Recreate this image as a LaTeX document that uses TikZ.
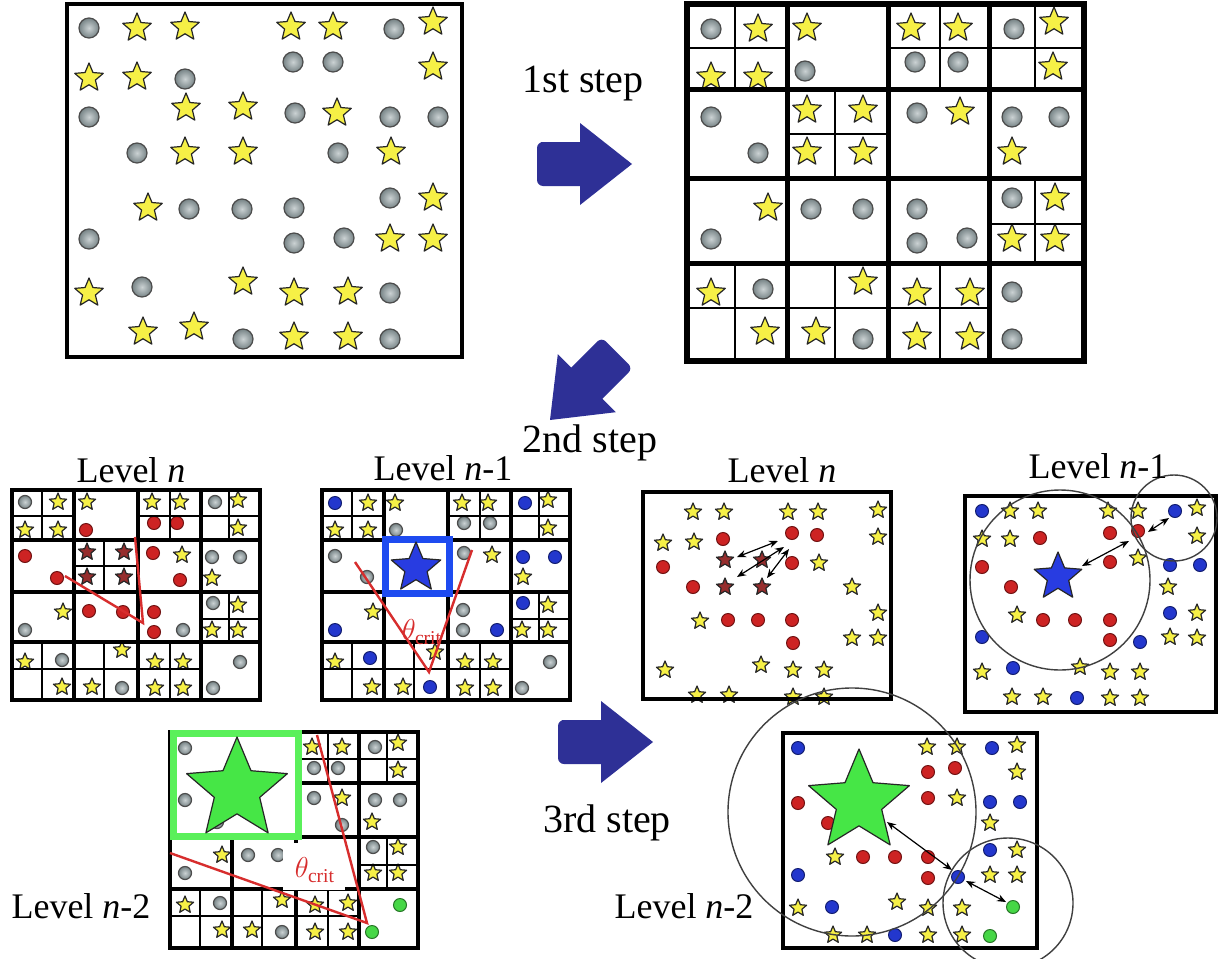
\documentclass[tikz,border=0pt]{standalone}
\usepackage{fontspec}
\setmainfont{Liberation Serif}
\usetikzlibrary{arrows.meta}
\definecolor{cgray}{RGB}{140,155,158}
\definecolor{cyel}{RGB}{246,240,70}
\definecolor{cred}{RGB}{205,35,35}
\definecolor{cdred}{RGB}{150,45,45}
\definecolor{cblue}{RGB}{35,55,205}
\definecolor{cbstar}{RGB}{40,60,225}
\definecolor{cgreen}{RGB}{70,215,70}
\definecolor{cgstar}{RGB}{70,230,70}
\definecolor{cbbox}{RGB}{30,75,240}
\definecolor{cgbox}{RGB}{90,240,90}
\definecolor{cline}{RGB}{215,45,45}
\definecolor{carrow}{RGB}{46,48,150}
\newcommand\mkdot[4]{\filldraw[fill=#4,draw=#4!55!black,line width=0.5pt] (#1,#2) circle (#3);}
\newcommand\mkgdot[3]{\shadedraw[inner color=cgray!45!white,outer color=cgray!85!black,draw=black!70,line width=0.6pt] (#1,#2) circle (#3);}
\newcommand\mkstar[4]{\pgfmathsetmacro\myrin{0.45*#3}\filldraw[fill=#4,draw=black!85,line width=0.6pt,line join=round] (#1,#2) +(-90:#3) -- +(-54:\myrin) -- +(-18:#3) -- +(18:\myrin) -- +(54:#3) -- +(90:\myrin) -- +(126:#3) -- +(162:\myrin) -- +(198:#3) -- +(234:\myrin) -- cycle;}
\newcommand\qgrid[3]{%
 \draw[line width=#3] (48,0)--(48,85) (0,44)--(100,44)
   (253,0)--(253,85) (201,44)--(302,44)
   (348,0)--(348,85) (302,44)--(397,44)
   (148,85)--(148,174) (100,130)--(201,130)
   (348,174)--(348,259) (302,220)--(397,220)
   (48,259)--(48,357) (148,259)--(148,357) (253,259)--(253,357) (0,304)--(302,304);
 \draw[line width=#2] (100,0)--(100,357) (201,0)--(201,357) (302,0)--(302,357)
   (0,85)--(397,85) (0,174)--(397,174) (0,259)--(397,259);
 \draw[line width=#1] (0,0) rectangle (397,357);}
\newcommand\barrow[2]{\begin{scope}[shift={(#1,#2)}]
 \fill[carrow] (43,-22) -- (43,-41) -- (95,0) -- (43,41) -- (43,22) -- (10,22) [rounded corners=3pt] -- (0,22) -- (0,-22) -- (10,-22) [sharp corners] -- cycle;
 \end{scope}}
\tikzset{
 steplab/.style={font=\fontsize{20}{24}\selectfont, anchor=base, inner sep=0pt},
 levlab/.style={font=\fontsize{18}{22}\selectfont, anchor=base, inner sep=0pt},
 thlab/.style={font=\fontsize{14}{16}\selectfont, text=cline, inner sep=0pt},
 redln/.style={cline, line width=1.2pt},
 parr/.style={{Stealth[length=4.5pt,width=3.6pt]}-{Stealth[length=4.5pt,width=3.6pt]}, line width=0.6pt, black},
 rangec/.style={black!75, line width=0.7pt},
 panelbox/.style={line width=2.4pt}
}
\begin{document}
\begin{tikzpicture}[x=0.5pt,y=-0.5pt]
\clip (0,0) rectangle (1220,958);
\fill[white] (0,0) rectangle (1220,958);

% ---------- top-left ----------
\foreach \x/\y in {89/28,394/29,293/62,333/62,185/79,89/117,295/113,390/117,438/117,137/153,338/153,189/209,242/209,294/208,390/198,89/239,294/243,344/238,142/287,390/293,243/339,390/339}{\mkgdot{\x}{\y}{10}}
\foreach \x/\y in {137/28,185/27,291/27,333/27,433/22,433/67,89/78,137/77,186/108,243/107,337/113,185/152,243/152,391/152,148/208,433/198,390/239,433/239,89/293,243/282,294/293,348/292,143/332,194/327,294/337,348/337}{\mkstar{\x}{\y}{15}{cyel}}
\draw[line width=2.3pt] (67,4) rectangle (462,357);

% ---------- top-right ----------
\foreach \x/\y in {711/29,1014/29,805/71,915/62,958/62,711/117,917/113,1012/117,1059/117,758/153,811/209,863/209,917/209,1012/198,711/239,917/243,967/238,763/289,1012/292,863/339,1012/339}{\mkgdot{\x}{\y}{10}}
\foreach \x/\y in {758/29,807/28,911/28,958/28,1054/22,711/77,758/77,1053/67,807/110,863/110,960/112,807/152,863/152,1012/152,768/208,1055/198,1012/239,1055/239,711/293,863/282,917/293,970/293,765/332,816/332,917/337,970/337}{\mkstar{\x}{\y}{15}{cyel}}
\begin{scope}[shift={(687,4)}]\qgrid{2.6pt}{2.5pt}{1.2pt}\end{scope}

% ---------- block arrows ----------
\barrow{537}{164}
\fill[carrow] (571.2,367.6) -- (557.8,354.2) -- (550,420) -- (615.8,412.2) -- (602.4,398.8) -- (625,376) [rounded corners=3pt] -- (632.8,368.4) -- (601.6,337.2) -- (594,345) [sharp corners] -- cycle;
\barrow{558}{742}

% ---------- Level n (left) ----------
\foreach \x/\y in {25/502,215/502,212/557,240/557,213/603,25/630,183/630,62/660,240/662,122/688,213/688}{\mkgdot{\x}{\y}{6.5}}
\foreach \x/\y in {86/530,154/523,177/523,25/556,153/553,57/578,180/580,89/611,123/612,154/612,154/632}{\mkdot{\x}{\y}{6.5}{cred}}
\foreach \x/\y in {58/502,87/502,152/502,180/502,238/500,25/530,58/530,238/528,182/555,212/578,63/612,238/605,212/630,238/630,25/662,122/650,155/662,183/662,62/687,92/687,155/688,183/688}{\mkstar{\x}{\y}{9}{cyel}}
\foreach \x/\y in {87/552,124/552,87/577,124/577}{\mkstar{\x}{\y}{9}{cdred}}
\begin{scope}[shift={(12,490)},xscale=0.6247,yscale=0.5882]\qgrid{2.3pt}{2pt}{1pt}\end{scope}
\draw[redln] (65,576) -- (143,623) -- (135,537);

% ---------- Level n-1 (middle) ----------
\foreach \x/\y in {396/530,464/523,490/523,335/556,464/553,367/577,463/610,463/630,550/662,522/688}{\mkgdot{\x}{\y}{6.5}}
\foreach \x/\y in {335/503,525/503,523/557,555/557,523/603,335/630,497/630,370/658,430/687}{\mkdot{\x}{\y}{6.5}{cblue}}
\foreach \x/\y in {368/503,395/503,462/503,488/503,548/500,335/530,368/530,548/528,492/555,523/577,373/612,548/605,522/630,548/630,335/662,435/652,465/662,493/662,372/687,403/687,465/688,493/688}{\mkstar{\x}{\y}{9}{cyel}}
\begin{scope}[shift={(322,490)},xscale=0.6247,yscale=0.5882]\qgrid{2.3pt}{2pt}{1pt}\end{scope}
\filldraw[fill=white,draw=cbbox,line width=3.5pt] (385.5,539.5) rectangle (449.5,593.5);
\mkstar{416}{568}{26}{cbstar}
\draw[redln] (355,562) -- (429,672) -- (472,550);
\node[thlab] (th1) at (422,632) {$\theta_{\mathrm{crit}}$};

% ---------- Level n-2 (left) ----------
\foreach \x/\y in {375/747,314/768,338/768,314/798,375/800,400/800,342/825,248/855,278/855,373/847,185/873,220/903,282/932}{\mkgdot{\x}{\y}{6.5}}
\foreach \x/\y in {400/905,372/932}{\mkdot{\x}{\y}{6.5}{cgreen}}
\foreach \x/\y in {312/747,342/747,398/743,398/770,342/798,372/822,222/855,398/847,373/873,398/873,185/905,282/900,315/905,348/903,222/930,252/930,315/932,348/932}{\mkstar{\x}{\y}{9}{cyel}}
\begin{scope}[shift={(170,732)},xscale=0.6247,yscale=0.605]\qgrid{2.3pt}{2pt}{1pt}\end{scope}
\filldraw[fill=white,draw=cgbox,line width=3.5pt] (173.5,733.5) rectangle (298.5,836.5);
\foreach \x/\y in {185/748,185/800,217/822}{\mkgdot{\x}{\y}{6.5}}
\mkstar{237}{790}{53}{cgstar}
\fill[white] (283,843) rectangle (345,890);
\draw[redln] (170,853) -- (367,923) -- (317,735);
\node[thlab] (th2) at (315,870) {$\theta_{\mathrm{crit}}$};

% ---------- Level n (right) ----------
\foreach \x/\y in {723/539,792/533,817/535,663/567,792/563,693/587,728/620,758/620,792/620,793/643}{\mkdot{\x}{\y}{6.5}{cred}}
\foreach \x/\y in {693/512,724/512,788/512,818/512,878/510,663/543,694/542,878/537,819/563,852/587,700/621,878/613,852/638,878/638,665/670,761/665,793/670,824/670,697/695,729/695,793/697,824/697}{\mkstar{\x}{\y}{9}{cyel}}
\foreach \x/\y in {725/560,762/560,725/587,762/587}{\mkstar{\x}{\y}{9}{cdred}}
\draw[panelbox] (643,492) rectangle (891,699);
\coordinate (a1s) at (778,541); \coordinate (a1e) at (737,557);
\coordinate (a2s) at (784,547); \coordinate (a2e) at (737,577);
\coordinate (a3s) at (789,549); \coordinate (a3e) at (767,578);
\draw[parr] (a1s) -- (a1e);
\draw[parr] (a2s) -- (a2e);
\draw[parr] (a3s) -- (a3e);

% ---------- Level n-1 (right) ----------
\foreach \x/\y in {1040/538,1110/533,1138/531,982/567,1110/562,1011/587,1043/620,1075/620,1110/620,1110/640}{\mkdot{\x}{\y}{6.5}{cred}}
\foreach \x/\y in {982/511,1175/511,1170/565,1200/565,1170/613,982/637,1140/642,1013/668,1077/698}{\mkdot{\x}{\y}{6.5}{cblue}}
\foreach \x/\y in {1010/511,1038/511,1108/511,1138/511,1197/508,982/539,1010/539,1197/536,1138/558,1168/587,1017/615,1197/613,1170/637,1197/638,982/672,1080/667,1110/672,1140/672,1012/697,1043/697,1110/698,1140/698}{\mkstar{\x}{\y}{9}{cyel}}
\mkstar{1058}{577}{25}{cbstar}
\draw[panelbox] (965,496) rectangle (1216,712);
\coordinate (b1s) at (1082,566); \coordinate (b1e) at (1129,541);
\coordinate (b2s) at (1148,532); \coordinate (b2e) at (1169,518);
\draw[parr] (b1s) -- (b1e);
\draw[parr] (b2s) -- (b2e);

% ---------- Level n-2 (right) ----------
\foreach \x/\y in {928/772,955/768,798/803,928/798,828/823,863/857,895/857,928/857,928/878}{\mkdot{\x}{\y}{6.5}{cred}}
\foreach \x/\y in {798/748,992/748,990/802,1020/802,990/850,798/875,958/877,832/907,895/935}{\mkdot{\x}{\y}{6.5}{cblue}}
\foreach \x/\y in {1013/907,990/936}{\mkdot{\x}{\y}{6.5}{cgreen}}
\foreach \x/\y in {927/747,957/747,1017/745,1017/772,957/798,990/823,835/857,1017/850,990/875,1017/875,798/908,897/902,928/908,962/908,833/935,867/935,928/935,962/935}{\mkstar{\x}{\y}{9}{cyel}}
\mkstar{859}{802}{53}{cgstar}
\draw[panelbox] (783,733) rectangle (1037,948);
\coordinate (c1s) at (887,822); \coordinate (c1e) at (952,870);
\coordinate (c2s) at (966,881); \coordinate (c2e) at (1006,902);
\draw[parr] (c1s) -- (c1e);
\draw[parr] (c2s) -- (c2e);

% ---------- range circles ----------
\draw[rangec] (1060,580) circle (90);
\draw[rangec] (1174,518) circle (43);
\draw[rangec] (852,812) circle (124);
\draw[rangec] (1008,903) circle (65);

% ---------- labels ----------
\node[steplab] (s1) at (583,92) {1st step};
\node[steplab] (s2) at (590,452) {2nd step};
\node[steplab] (s3) at (607,832) {3rd step};
\node[levlab] (l1) at (131,482) {Level \textit{n}};
\node[levlab] (l2) at (443,480) {Level \textit{n}-1};
\node[levlab] (l3) at (782,482) {Level \textit{n}};
\node[levlab] (l4) at (1098,478) {Level \textit{n}-1};
\node[levlab] (l5) at (81,918) {Level \textit{n}-2};
\node[levlab] (l6) at (684,918) {Level \textit{n}-2};
\end{tikzpicture}
\end{document}
